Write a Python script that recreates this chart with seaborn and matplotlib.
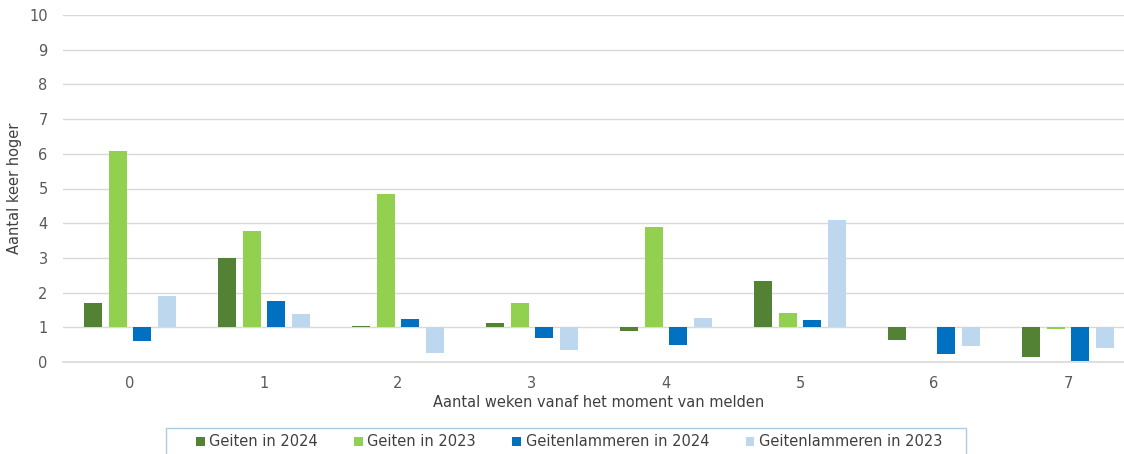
import numpy as np
import pandas as pd
import matplotlib
matplotlib.use("Agg")
import matplotlib.pyplot as plt
from matplotlib.patches import Patch, Rectangle
import seaborn as sns

weeks = ["0", "1", "2", "3", "4", "5", "6", "7"]
series = ["Geiten in 2024", "Geiten in 2023", "Geitenlammeren in 2024", "Geitenlammeren in 2023"]
geiten_2024 = [1.70, 3.01, 1.05, 1.11, 0.89, 2.33, 0.64, 0.14]
geiten_2023 = [6.08, 3.78, 4.84, 1.71, 3.90, 1.40, 1.00, 0.94]
lammeren_2024 = [0.60, 1.77, 1.24, 0.70, 0.50, 1.20, 0.24, 0.02]
lammeren_2023 = [1.89, 1.38, 0.26, 0.35, 1.27, 4.08, 0.45, 0.41]
colors = ["#548235", "#92D050", "#0070C0", "#BDD7EE"]
baseline = 1.0

rows = []
for name, vals in zip(series, [geiten_2024, geiten_2023, lammeren_2024, lammeren_2023]):
    for w, v in zip(weeks, vals):
        rows.append({"week": w, "serie": name, "value": v, "delta": v - baseline})
df = pd.DataFrame(rows)

sns.set_theme(style="white")
plt.rcParams['font.family'] = ['DejaVu Sans']

W, H = 1124, 454
fig = plt.figure(figsize=(W / 100, H / 100), dpi=100)
ax = fig.add_axes([63 / W, (H - 362) / H, 1072 / W, (362 - 15) / H])

sns.barplot(data=df, x="week", y="delta", hue="serie", order=weeks, hue_order=series,
            palette=colors, saturation=1, width=0.73, gap=0.25, bottom=baseline, linewidth=0,
            errorbar=None, ax=ax, legend=False, zorder=3)

ax.set_ylim(0, 10)
ax.set_xlim(-0.5, 7.5)
ax.set_yticks(range(0, 11))
ax.yaxis.grid(True, color="#D9D9D9", linewidth=1.0, zorder=0)
ax.axhline(0, color="#D9D9D9", linewidth=1.2, clip_on=False, zorder=1)
ax.set_axisbelow(True)
for s in ["top", "right", "left", "bottom"]:
    ax.spines[s].set_visible(False)
ax.tick_params(axis="both", length=0, colors="#595959", labelsize=10.5)
ax.tick_params(axis="x", pad=10)
ax.tick_params(axis="y", pad=11)
ax.set_xlabel("Aantal weken vanaf het moment van melden", fontsize=10.5, color="#404040", labelpad=3)
ax.set_ylabel("Aantal keer hoger", fontsize=10.5, color="#404040", labelpad=5)

# legend frame (bottom edge falls outside the picture, as in the reference)
fig.patches.append(Rectangle((166 / W, -0.1), 800 / W, 0.1 + (H - 428) / H,
                             transform=fig.transFigure, fill=False,
                             edgecolor="#A9CBE3", linewidth=1.0))
handles = [Patch(facecolor=c, edgecolor="none") for c in colors]
leg = fig.legend(handles, series, loc="center", bbox_to_anchor=(569 / W, 1 - 442 / H),
                 ncol=4, frameon=False, fontsize=10.5, handlelength=0.6, handleheight=0.6,
                 handletextpad=0.3, columnspacing=2.5, borderpad=0.2)
for t in leg.get_texts():
    t.set_color("#404040")

fig.savefig("out.png", dpi=100)
